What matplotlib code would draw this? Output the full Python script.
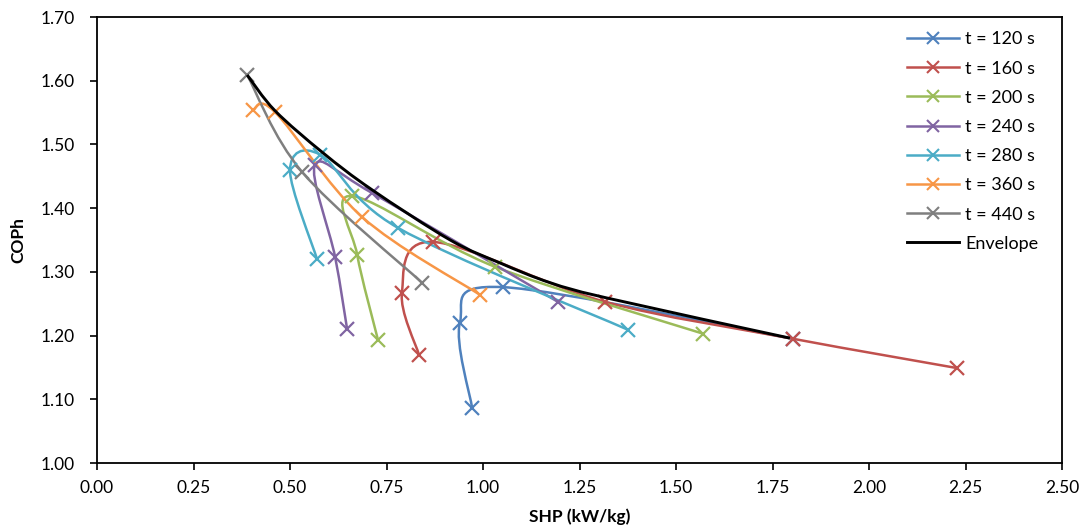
import matplotlib.pyplot as plt
from matplotlib.path import Path
from matplotlib.patches import PathPatch
from matplotlib.lines import Line2D

plt.rcParams['font.family'] = ['Lato', 'DejaVu Sans']

# SHP (kW/kg) and COPh for each cycle time
labels = ['t = 120 s', 't = 160 s', 't = 200 s', 't = 240 s', 't = 280 s', 't = 360 s', 't = 440 s']

shp_120 = [0.972, 0.940, 1.052, 1.803]
cop_120 = [1.086, 1.220, 1.276, 1.195]
shp_160 = [0.834, 0.790, 0.870, 1.316, 1.803, 2.228]
cop_160 = [1.170, 1.267, 1.347, 1.253, 1.195, 1.149]
shp_200 = [0.728, 0.674, 0.661, 1.031, 1.570]
cop_200 = [1.193, 1.327, 1.419, 1.308, 1.203]
shp_240 = [0.648, 0.617, 0.565, 0.712, 1.194]
cop_240 = [1.210, 1.323, 1.468, 1.424, 1.253]
shp_280 = [0.570, 0.500, 0.578, 0.780, 1.376]
cop_280 = [1.320, 1.460, 1.484, 1.369, 1.209]
shp_360 = [0.404, 0.461, 0.687, 0.992]
cop_360 = [1.554, 1.551, 1.386, 1.264]
shp_440 = [0.389, 0.531, 0.842]
cop_440 = [1.609, 1.457, 1.283]

env_shp = [0.389, 0.461, 0.585, 0.712, 0.915, 1.044, 1.174, 1.321, 1.795]
env_cop = [1.609, 1.553, 1.487, 1.429, 1.350, 1.314, 1.283, 1.259, 1.196]

shp_all = [shp_120, shp_160, shp_200, shp_240, shp_280, shp_360, shp_440]
cop_all = [cop_120, cop_160, cop_200, cop_240, cop_280, cop_360, cop_440]

# excel 2010 palette
colors = ['#4F81BD', '#C0504D', '#9BBB59', '#8064A2', '#4BACC6', '#F79646', '#7F7F7F']


def smooth_path(xs, ys):
    # excel style smoothed line: bezier segments with catmull-rom control points
    pts = list(zip(xs, ys))
    verts = [pts[0]]
    codes = [Path.MOVETO]
    n = len(pts)
    for i in range(n - 1):
        p0 = pts[i - 1] if i > 0 else pts[i]
        p1 = pts[i]
        p2 = pts[i + 1]
        p3 = pts[i + 2] if i + 2 < n else pts[i + 1]
        c1 = (p1[0] + (p2[0] - p0[0]) / 6, p1[1] + (p2[1] - p0[1]) / 6)
        c2 = (p2[0] - (p3[0] - p1[0]) / 6, p2[1] - (p3[1] - p1[1]) / 6)
        verts += [c1, c2, p2]
        codes += [Path.CURVE4] * 3
    return Path(verts, codes)


fig = plt.figure(figsize=(10.9, 5.31), dpi=100)
ax = fig.add_axes([97 / 1090, 68 / 531, 965 / 1090, 446 / 531])

handles = []
for i in range(len(labels)):
    ax.add_patch(PathPatch(smooth_path(shp_all[i], cop_all[i]), fill=False,
                           edgecolor=colors[i], lw=1.8, zorder=2))
    ax.plot(shp_all[i], cop_all[i], linestyle='none', marker='x', markersize=10,
            markeredgewidth=1.6, color=colors[i], zorder=3)
    handles.append(Line2D([], [], color=colors[i], lw=1.8, marker='x',
                          markersize=8, markeredgewidth=1.5, label=labels[i]))

ax.add_patch(PathPatch(smooth_path(env_shp, env_cop), fill=False,
                       edgecolor='black', lw=2.1, zorder=4))
handles.append(Line2D([], [], color='black', lw=2.1, label='Envelope'))

ax.set_xlim(0, 2.5)
ax.set_ylim(1.0, 1.7)
ax.set_xticks([0.0, 0.25, 0.5, 0.75, 1.0, 1.25, 1.5, 1.75, 2.0, 2.25, 2.5])
ax.set_yticks([1.0, 1.1, 1.2, 1.3, 1.4, 1.5, 1.6, 1.7])
ax.xaxis.set_major_formatter(plt.FormatStrFormatter('%.2f'))
ax.yaxis.set_major_formatter(plt.FormatStrFormatter('%.2f'))
ax.tick_params(direction='out', length=5, width=1.2, labelsize=12.5)
ax.tick_params(axis='x', pad=7)
ax.tick_params(axis='y', pad=11)
for s in ax.spines.values():
    s.set_linewidth(1.3)

ax.set_xlabel('SHP (kW/kg)', fontsize=12.5, fontweight='bold', labelpad=9)
ax.set_ylabel('COPh', fontsize=12.5, fontweight='bold', labelpad=10)

ax.legend(handles=handles, loc='upper right', bbox_to_anchor=(1 - 9 / 965, 1.0),
          frameon=False, fontsize=13, handlelength=2.9, handletextpad=0.35,
          labelspacing=0.73, borderaxespad=0.4)

plt.savefig('out.png', dpi=100)
